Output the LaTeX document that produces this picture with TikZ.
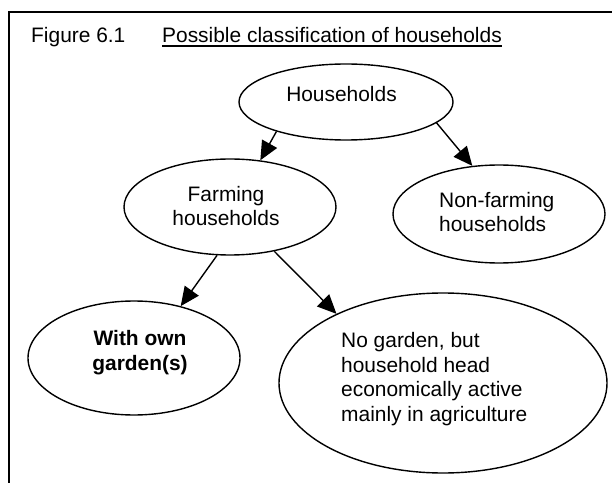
\documentclass[tikz,border=0pt]{standalone}
\usepackage{fontspec}
\setmainfont{Liberation Sans}
\usetikzlibrary{arrows.meta,shapes.geometric}
\begin{document}
\begin{tikzpicture}[x=1bp,y=-1bp,
  ell/.style={draw,ellipse,line width=1.4bp,inner sep=0pt},
  lbl/.style={inner sep=0pt,font=\fontsize{21}{24.5}\selectfont},
  conn/.style={line width=1.4bp,-{Triangle[length=19bp,width=17bp]}}]
\useasboundingbox (0,0) rectangle (612,483);
% frame
\coordinate (fa) at (9,484);
\coordinate (fb) at (9,12);
\coordinate (fc) at (613,12);
\draw[line width=2bp] (fa) -- (fb) -- (fc);
% title
\node[lbl,anchor=base west] (fig) at (31,43) {Figure 6.1};
\node[lbl,anchor=base west] (ttl) at (162,43) {Possible classification of households};
\draw[line width=1.3bp] ([yshift=-3bp]ttl.base west) -- ([yshift=-3bp]ttl.base east);
% ellipses
\node[ell,minimum width=214bp,minimum height=76bp] (h) at (346,102) {};
\node[ell,minimum width=212bp,minimum height=96bp] (f) at (230,207) {};
\node[ell,minimum width=212bp,minimum height=98bp] (nf) at (499,214) {};
\node[ell,minimum width=212bp,minimum height=114bp] (w) at (134,358) {};
\node[ell,minimum width=328bp,minimum height=180bp] (n) at (443,383) {};
% texts (multi-line: base anchor = last baseline)
\node[lbl,anchor=base] (ht) at (341.5,102) {Households};
\node[lbl,anchor=base,align=center] (ft) at (226,226) {Farming\\households};
\node[lbl,anchor=base west,align=left] (nft) at (439,232) {Non-farming\\households};
\node[lbl,anchor=base,align=center,font=\fontsize{21}{24.5}\selectfont\bfseries] (wt) at (140,370) {With own\\garden(s)};
\node[lbl,anchor=base west,align=left] (nt) at (341,421) {No garden, but\\household head\\economically active\\mainly in agriculture};
% connectors
\draw[conn] (h.203) -- (f.57);
\draw[conn] (h.347) -- (nf.119);
\draw[conn] (f.255) -- (w.48);
\draw[conn] (f.315) -- (n.147);
\end{tikzpicture}
\end{document}
